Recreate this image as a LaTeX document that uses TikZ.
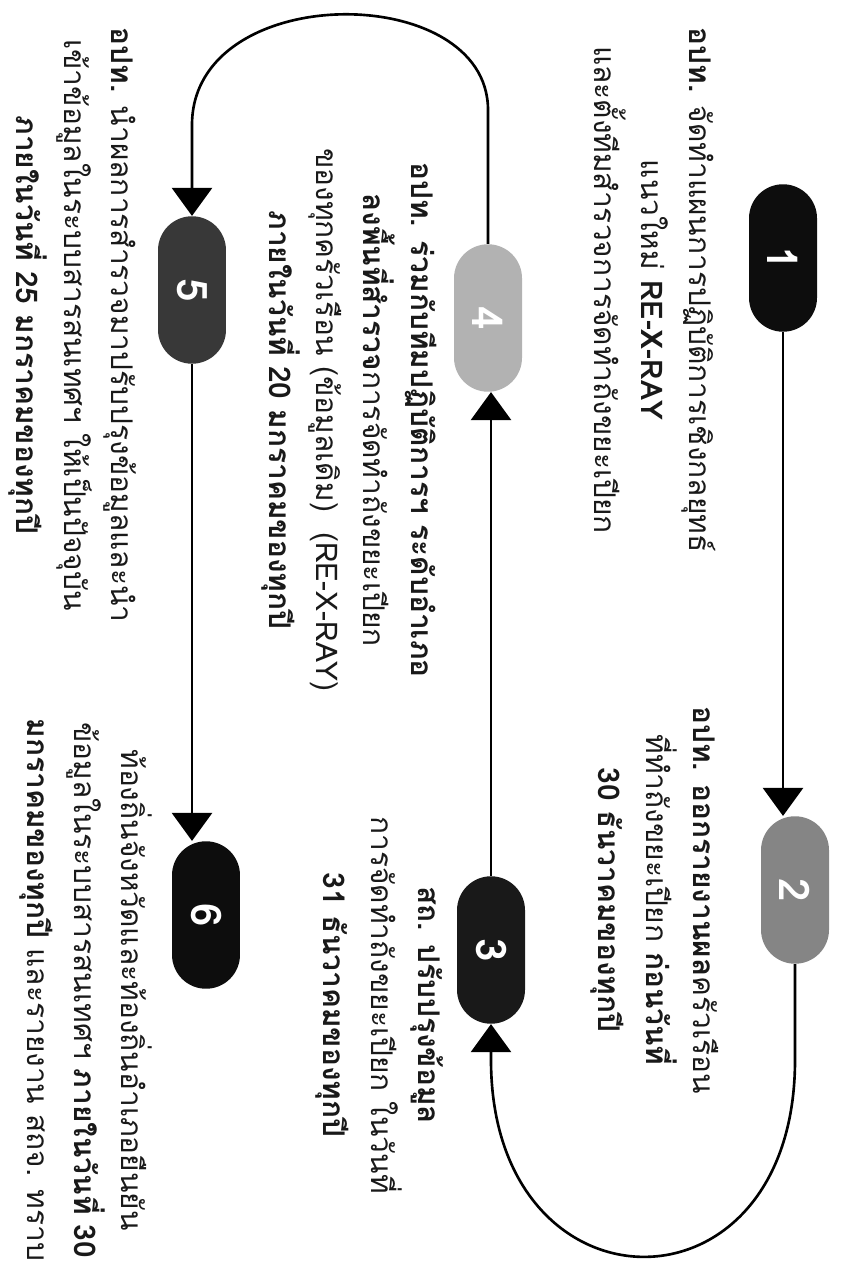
\documentclass[tikz,border=0pt]{standalone}
\usepackage{fontspec}
\newfontfamily\thaifont[Script=Thai]{Loma}
\usetikzlibrary{arrows.meta}
\begin{document}
\begin{tikzpicture}[x=0.02cm,y=-0.02cm,
  pill/.style={draw=none, rounded corners=0.68cm, minimum width=1.36cm, minimum height=2.95cm, inner sep=0pt, text=white, font=\thaifont\bfseries\fontsize{24}{24}\selectfont},
  txt/.style={rotate=-90, align=center, inner sep=0pt, text=black!90, font=\thaifont\fontsize{17}{27}\selectfont},
  conn/.style={line width=1.5pt, draw=black, -{Triangle[length=0.56cm,width=0.8cm]}}
]
\useasboundingbox[fill=white] (0,0) rectangle (840,1273);
% step nodes
\node[pill, fill=black!95]  (n1) at (783,258) {\rotatebox{-90}{1}};
\node[pill, fill=black!48]  (n2) at (795,890) {\rotatebox{-90}{2}};
\node[pill, fill=black!90]  (n3) at (491,950) {\rotatebox{-90}{3}};
\node[pill, fill=black!30]  (n4) at (488,318) {\rotatebox{-90}{4}};
\node[pill, fill=black!78]  (n5) at (192,290) {\rotatebox{-90}{5}};
\node[pill, fill=black!95]  (n6) at (206,915) {\rotatebox{-90}{6}};
% texts
\node[txt] (t1) at (655,290) {{\bfseries อปท.} จัดทำแผนการปฏิบัติการเชิงกลยุทธ์\\ แนวใหม่ {\bfseries RE-X-RAY}\\ และตั้งทีมสำรวจการจัดทำถังขยะเปียก};
\node[txt] (t2) at (655,900) {{\bfseries อปท. ออกรายงานผล}ครัวเรือน\\ ที่ทำถังขยะเปียก {\bfseries ก่อนวันที่}\\ {\bfseries 30 ธันวาคมของทุกปี}};
\node[txt] (t3) at (380,1005) {{\bfseries สถ. ปรับปรุงข้อมูล}\\ การจัดทำถังขยะเปียก ในวันที่\\ {\bfseries 31 ธันวาคมของทุกปี}};
\node[txt] (t4) at (349,420) {{\bfseries อปท. ร่วมกับทีมปฏิบัติการฯ ระดับอำเภอ}\\ {\bfseries ลงพื้นที่สำรวจ}การจัดทำถังขยะเปียก\\ ของทุกครัวเรือน (ข้อมูลเดิม)~~(RE-X-RAY)\\ {\bfseries ภายในวันที่ 20 มกราคมของทุกปี}};
\node[txt] (t5) at (73,325) {{\bfseries อปท.} นำผลการสำรวจมาปรับปรุงข้อมูลและนำ\\ เข้าข้อมูลในระบบสารสนเทศฯ ให้เป็นปัจจุบัน\\ {\bfseries ภายในวันที่ 25 มกราคมของทุกปี}};
\node[txt] (t6) at (86,990) {ท้องถิ่นจังหวัดและท้องถิ่นอำเภอยืนยัน\\ ข้อมูลในระบบสารสนเทศฯ {\bfseries ภายในวันที่ 30}\\ {\bfseries มกราคมของทุกปี} และรายงาน สถจ. ทราบ};
% connectors
\coordinate (c2a) at (795,1060);
\coordinate (c3a) at (491,1060);
\coordinate (c4a) at (488,110);
\coordinate (c5a) at (192,125);
\draw[conn] (n1.south) -- (n1.south |- n2.north);
\draw[conn] (n2.south) -- (c2a) .. controls (795,1325) and (491,1320) .. (c3a) -- (n3.south);
\draw[conn] (n3.north) -- (n3.north |- n4.south);
\draw[conn] (n4.north) -- (c4a) .. controls (488,-20) and (192,-20) .. (c5a) -- (n5.north);
\draw[conn] (n5.south) -- (n5.south |- n6.north);
\end{tikzpicture}
\end{document}
